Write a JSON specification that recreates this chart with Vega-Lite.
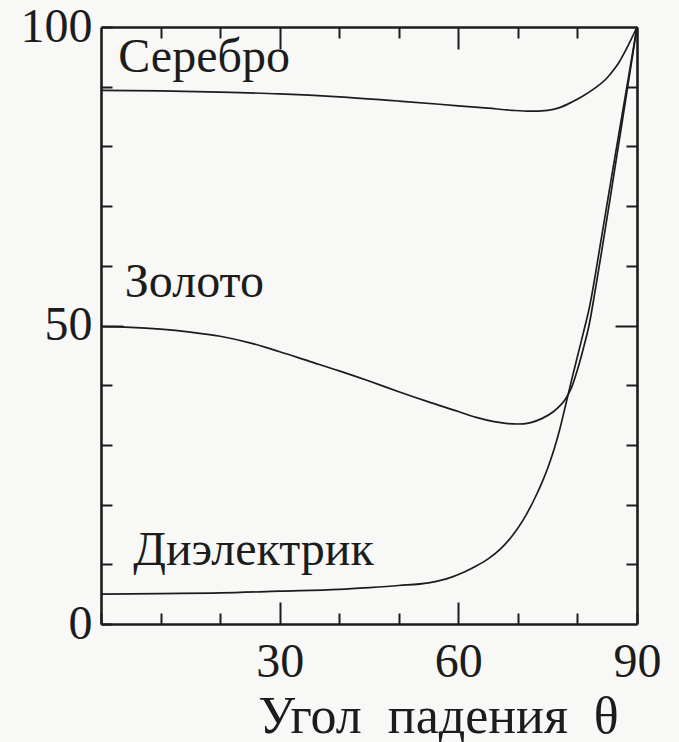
{
  "$schema": "https://vega.github.io/schema/vega-lite/v6.json",
  "width": 536,
  "height": 597,
  "autosize": {"type": "none"},
  "padding": {"left": 101, "top": 27, "right": 42, "bottom": 118},
  "background": "#f8f8f6",
  "config": {"view": {"stroke": null}, "font": "Liberation Serif"},
  "datasets": {
    "curves": [
      {"material": "Серебро", "angle": 0, "R": 89.4},
      {"material": "Серебро", "angle": 10, "R": 89.3},
      {"material": "Серебро", "angle": 20, "R": 89.1},
      {"material": "Серебро", "angle": 30, "R": 88.8},
      {"material": "Серебро", "angle": 40, "R": 88.3},
      {"material": "Серебро", "angle": 50, "R": 87.6},
      {"material": "Серебро", "angle": 60, "R": 86.8},
      {"material": "Серебро", "angle": 65, "R": 86.4},
      {"material": "Серебро", "angle": 69, "R": 86.05},
      {"material": "Серебро", "angle": 72, "R": 85.9},
      {"material": "Серебро", "angle": 75, "R": 86.05},
      {"material": "Серебро", "angle": 77, "R": 86.5},
      {"material": "Серебро", "angle": 79, "R": 87.4},
      {"material": "Серебро", "angle": 81, "R": 88.5},
      {"material": "Серебро", "angle": 83, "R": 89.8},
      {"material": "Серебро", "angle": 85, "R": 91.5},
      {"material": "Серебро", "angle": 86, "R": 92.7},
      {"material": "Серебро", "angle": 87, "R": 94.1},
      {"material": "Серебро", "angle": 88, "R": 95.9},
      {"material": "Серебро", "angle": 89, "R": 97.9},
      {"material": "Серебро", "angle": 90, "R": 100},
      {"material": "Золото", "angle": 0, "R": 49.8},
      {"material": "Золото", "angle": 5, "R": 49.7},
      {"material": "Золото", "angle": 10, "R": 49.4},
      {"material": "Золото", "angle": 15, "R": 48.9},
      {"material": "Золото", "angle": 20, "R": 48.2},
      {"material": "Золото", "angle": 25, "R": 47.1},
      {"material": "Золото", "angle": 30, "R": 45.6},
      {"material": "Золото", "angle": 35, "R": 44.0},
      {"material": "Золото", "angle": 40, "R": 42.4},
      {"material": "Золото", "angle": 45, "R": 40.7},
      {"material": "Золото", "angle": 50, "R": 38.9},
      {"material": "Золото", "angle": 55, "R": 37.2},
      {"material": "Золото", "angle": 60, "R": 35.6},
      {"material": "Золото", "angle": 63, "R": 34.6},
      {"material": "Золото", "angle": 66, "R": 33.9},
      {"material": "Золото", "angle": 68, "R": 33.6},
      {"material": "Золото", "angle": 70, "R": 33.5},
      {"material": "Золото", "angle": 72, "R": 33.7},
      {"material": "Золото", "angle": 74, "R": 34.4},
      {"material": "Золото", "angle": 76, "R": 35.6},
      {"material": "Золото", "angle": 77, "R": 36.5},
      {"material": "Золото", "angle": 78, "R": 37.7},
      {"material": "Золото", "angle": 79, "R": 39.6},
      {"material": "Золото", "angle": 80, "R": 42.6},
      {"material": "Золото", "angle": 81, "R": 46.2},
      {"material": "Золото", "angle": 82, "R": 50.3},
      {"material": "Золото", "angle": 83, "R": 56.0},
      {"material": "Золото", "angle": 84, "R": 62.0},
      {"material": "Золото", "angle": 86, "R": 74.5},
      {"material": "Золото", "angle": 88, "R": 87.2},
      {"material": "Золото", "angle": 90, "R": 100},
      {"material": "Диэлектрик", "angle": 0, "R": 5.0},
      {"material": "Диэлектрик", "angle": 10, "R": 5.1},
      {"material": "Диэлектрик", "angle": 20, "R": 5.2},
      {"material": "Диэлектрик", "angle": 30, "R": 5.5},
      {"material": "Диэлектрик", "angle": 40, "R": 5.8},
      {"material": "Диэлектрик", "angle": 45, "R": 6.1},
      {"material": "Диэлектрик", "angle": 50, "R": 6.45},
      {"material": "Диэлектрик", "angle": 55, "R": 6.9},
      {"material": "Диэлектрик", "angle": 57, "R": 7.3},
      {"material": "Диэлектрик", "angle": 59, "R": 7.9},
      {"material": "Диэлектрик", "angle": 61, "R": 8.7},
      {"material": "Диэлектрик", "angle": 63, "R": 9.7},
      {"material": "Диэлектрик", "angle": 65, "R": 10.9},
      {"material": "Диэлектрик", "angle": 67, "R": 12.5},
      {"material": "Диэлектрик", "angle": 69, "R": 14.7},
      {"material": "Диэлектрик", "angle": 71, "R": 17.6},
      {"material": "Диэлектрик", "angle": 72, "R": 19.4},
      {"material": "Диэлектрик", "angle": 73, "R": 21.4},
      {"material": "Диэлектрик", "angle": 74, "R": 23.6},
      {"material": "Диэлектрик", "angle": 75, "R": 26.1},
      {"material": "Диэлектрик", "angle": 76, "R": 29.0},
      {"material": "Диэлектрик", "angle": 77, "R": 32.5},
      {"material": "Диэлектрик", "angle": 78, "R": 36.6},
      {"material": "Диэлектрик", "angle": 79, "R": 40.8},
      {"material": "Диэлектрик", "angle": 80, "R": 44.8},
      {"material": "Диэлектрик", "angle": 81, "R": 48.8},
      {"material": "Диэлектрик", "angle": 82, "R": 53.0},
      {"material": "Диэлектрик", "angle": 84, "R": 64.5},
      {"material": "Диэлектрик", "angle": 86, "R": 76.5},
      {"material": "Диэлектрик", "angle": 88, "R": 88.2},
      {"material": "Диэлектрик", "angle": 90, "R": 100}
    ],
    "labels": [
      {"material": "Серебро", "angle": 2.9, "R": 92.5},
      {"material": "Золото", "angle": 4.0, "R": 54.8},
      {"material": "Диэлектрик", "angle": 5.4, "R": 9.9}
    ]
  },
  "layer": [
    {
      "data": {"name": "curves"},
      "mark": {"type": "line", "interpolate": "monotone", "color": "#1c1c1c", "strokeWidth": 1.7},
      "encoding": {
        "x": {
          "field": "angle", "type": "quantitative",
          "scale": {"domain": [0, 90], "nice": false, "zero": false},
          "axis": {
            "orient": "bottom",
            "values": [0, 10, 20, 30, 40, 50, 60, 70, 80, 90],
            "labelExpr": "(datum.value == 30 || datum.value == 60 || datum.value == 90) ? datum.label : ''",
            "tickSize": {"condition": {"test": "datum.value == 30 || datum.value == 60", "value": -22}, "value": -11},
            "labelPadding": {"condition": {"test": "datum.value == 30 || datum.value == 60", "value": 36}, "value": 25},
            "tickWidth": 2, "tickColor": "#1c1c1c",
            "domainWidth": 2.6, "domainColor": "#1c1c1c",
            "grid": false,
            "labelFont": "Liberation Serif", "labelFontSize": 48, "labelColor": "#1c1c1c",
            "labelFlush": false, "labelOverlap": false,
            "title": "Угол\u00a0\u00a0падения\u00a0\u00a0θ",
            "titleFont": "Liberation Serif", "titleFontSize": 52, "titleFontWeight": "normal", "titleColor": "#1c1c1c",
            "titleX": 337, "titleY": 108, "titleAlign": "center", "titleBaseline": "alphabetic"
          }
        },
        "y": {
          "field": "R", "type": "quantitative",
          "scale": {"domain": [0, 100], "nice": false},
          "axis": {
            "orient": "left",
            "values": [0, 10, 20, 30, 40, 50, 60, 70, 80, 90, 100],
            "labelExpr": "(datum.value % 50 == 0) ? datum.label : ''",
            "tickSize": {"condition": {"test": "datum.value == 50", "value": -22}, "value": -11},
            "labelPadding": {"condition": {"test": "datum.value == 50", "value": 31}, "value": 20},
            "tickWidth": 2, "tickColor": "#1c1c1c",
            "domainWidth": 2.6, "domainColor": "#1c1c1c",
            "grid": false,
            "labelFont": "Liberation Serif", "labelFontSize": 48, "labelColor": "#1c1c1c",
            "labelFlush": false, "labelOverlap": false,
            "title": null
          }
        },
        "detail": {"field": "material", "type": "nominal"}
      }
    },
    {
      "data": {"name": "labels"},
      "mark": {"type": "text", "align": "left", "baseline": "alphabetic", "font": "Liberation Serif", "fontSize": 48, "color": "#1c1c1c"},
      "encoding": {
        "x": {
          "field": "angle", "type": "quantitative",
          "axis": {
            "orient": "top",
            "values": [10, 20, 30, 40, 50, 60, 70, 80],
            "labels": false,
            "tickSize": {"condition": {"test": "datum.value == 30 || datum.value == 60", "value": -22}, "value": -11},
            "tickWidth": 2, "tickColor": "#1c1c1c",
            "domainWidth": 2.6, "domainColor": "#1c1c1c",
            "grid": false, "title": null
          }
        },
        "y": {
          "field": "R", "type": "quantitative",
          "axis": {
            "orient": "right",
            "values": [10, 20, 30, 40, 50, 60, 70, 80, 90],
            "labels": false,
            "tickSize": {"condition": {"test": "datum.value == 50", "value": -22}, "value": -11},
            "tickWidth": 2, "tickColor": "#1c1c1c",
            "domainWidth": 2.6, "domainColor": "#1c1c1c",
            "grid": false, "title": null
          }
        },
        "text": {"field": "material", "type": "nominal"}
      }
    }
  ],
  "resolve": {"axis": {"x": "independent", "y": "independent"}}
}
